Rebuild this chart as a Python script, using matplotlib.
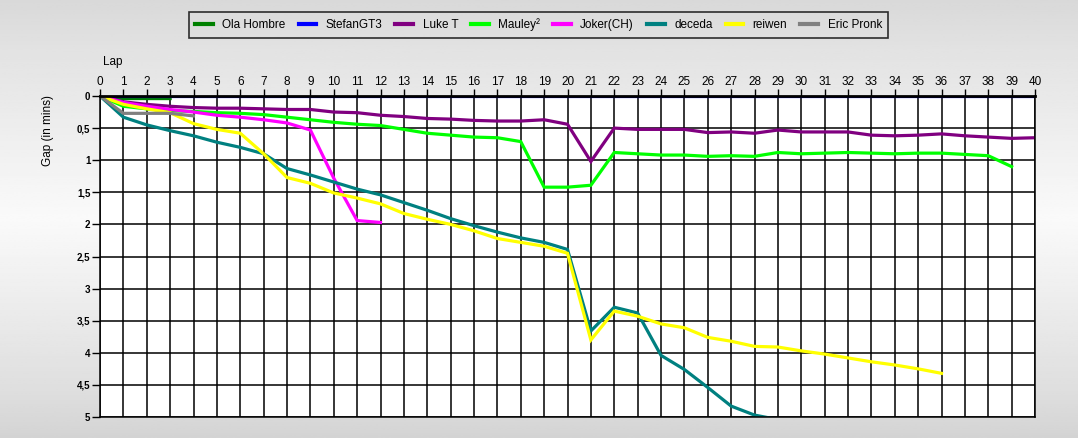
import numpy as np
import matplotlib
matplotlib.use('Agg')
import matplotlib.pyplot as plt

plt.rcParams['font.family'] = ['Liberation Sans', 'DejaVu Sans']

# gap to leader (minutes) per lap
ola_hombre = [0, 0.04, 0.04, 0.04]
stefan = [0] * 41
luke_t = [0, 0.09, 0.13, 0.16, 0.18, 0.19, 0.19, 0.20, 0.21, 0.21,
          0.25, 0.26, 0.30, 0.32, 0.35, 0.36, 0.38, 0.39, 0.39, 0.37,
          0.44, 1.02, 0.50, 0.52, 0.52, 0.52, 0.57, 0.56, 0.58, 0.53,
          0.56, 0.56, 0.56, 0.61, 0.62, 0.61, 0.59, 0.62, 0.64, 0.66,
          0.65]
mauley = [0, 0.16, 0.20, 0.23, 0.24, 0.26, 0.27, 0.29, 0.33, 0.37,
          0.41, 0.44, 0.46, 0.52, 0.58, 0.61, 0.64, 0.65, 0.71, 1.42,
          1.42, 1.39, 0.88, 0.90, 0.92, 0.92, 0.94, 0.93, 0.94, 0.88,
          0.90, 0.89, 0.88, 0.89, 0.90, 0.89, 0.89, 0.91, 0.93, 1.10]
joker = [0, 0.10, 0.16, 0.21, 0.25, 0.30, 0.33, 0.37, 0.42, 0.53,
         1.28, 1.94, 1.97]
deceda = [0, 0.33, 0.45, 0.54, 0.62, 0.72, 0.80, 0.90, 1.13, 1.23,
          1.34, 1.45, 1.54, 1.66, 1.78, 1.91, 2.02, 2.12, 2.21, 2.28,
          2.39, 3.66, 3.29, 3.38, 4.04, 4.26, 4.54, 4.83, 4.97, 5.04]
reiwen = [0, 0.13, 0.20, 0.26, 0.43, 0.52, 0.58, 0.90, 1.27, 1.36,
          1.51, 1.59, 1.68, 1.83, 1.92, 2.00, 2.10, 2.22, 2.28, 2.34,
          2.45, 3.80, 3.35, 3.43, 3.55, 3.61, 3.76, 3.82, 3.90, 3.91,
          3.97, 4.02, 4.08, 4.14, 4.19, 4.25, 4.32]
eric_pronk = [0, 0.27, 0.27, 0.27, 0.31]

series = [
    ('Ola Hombre', ola_hombre, '#008000'),
    ('StefanGT3', stefan, '#0000ff'),
    ('Luke T', luke_t, '#800080'),
    ('Mauley²', mauley, '#00ff00'),
    ('Joker(CH)', joker, '#ff00ff'),
    ('deceda', deceda, '#008080'),
    ('reiwen', reiwen, '#ffff00'),
    ('Eric Pronk', eric_pronk, '#808080'),
]

lap_ticks = list(range(0, 41))
gap_ticks = [0, 0.5, 1, 1.5, 2, 2.5, 3, 3.5, 4, 4.5, 5]
gap_labels = ['0', '0,5', '1', '1,5', '2', '2,5', '3', '3,5', '4', '4,5', '5']

fig = plt.figure(figsize=(10.78, 4.38), dpi=100)

# gradient background
bg = fig.add_axes([0, 0, 1, 1], zorder=-10)
rows = np.linspace(0, 1, 200)
shade = np.interp(rows, [0, 0.12, 0.5, 0.9, 1], [0.85, 0.89, 0.98, 0.87, 0.83])
bg.imshow(np.repeat(shade[:, None], 2, axis=1), cmap='gray', vmin=0, vmax=1,
          aspect='auto', extent=[0, 1, 0, 1], origin='upper')
bg.axis('off')

ax = fig.add_axes([100 / 1078, 1 - 417 / 438, 935 / 1078, 321 / 438])
ax.set_facecolor('white')

for name, vals, col in series:
    ax.plot(range(len(vals)), vals, color=col, lw=2.3, label=name,
            solid_joinstyle='miter')

ax.set_xlim(0, 40)
ax.set_ylim(5, 0)
ax.xaxis.tick_top()
ax.set_xticks(lap_ticks)
ax.set_yticks(gap_ticks)
ax.set_yticklabels(gap_labels)
ax.tick_params(axis='x', labelsize=8.5, length=5, width=1, pad=1)
ax.tick_params(axis='y', labelsize=7, length=6, width=1, pad=1)
for t in ax.get_yticklabels():
    t.set_fontweight('bold')
ax.grid(True, color='black', lw=1.1)
ax.set_axisbelow(True)
for s in ax.spines.values():
    s.set_color('black')
    s.set_linewidth(1.1)
ax.spines['top'].set_linewidth(2)

fig.text(103 / 1078, 1 - 62 / 438, 'Lap', fontsize=8.5, va='center', ha='left')
fig.text(48 / 1078, 1 - 131 / 438, 'Gap (in mins)', fontsize=8.5,
         rotation=90, va='center', ha='center')

leg = fig.legend(loc='upper center', bbox_to_anchor=(538.5 / 1078, 1 - 12 / 438),
                 ncol=8, fontsize=8.5, frameon=True, fancybox=False,
                 handlelength=1.5, columnspacing=1.1, handletextpad=0.8,
                 borderpad=0.55, borderaxespad=0)
leg.get_frame().set_edgecolor('black')
leg.get_frame().set_facecolor('none')
leg.get_frame().set_linewidth(1.2)
for h in leg.get_lines():
    h.set_linewidth(3)

fig.savefig('out.png', dpi=100)
